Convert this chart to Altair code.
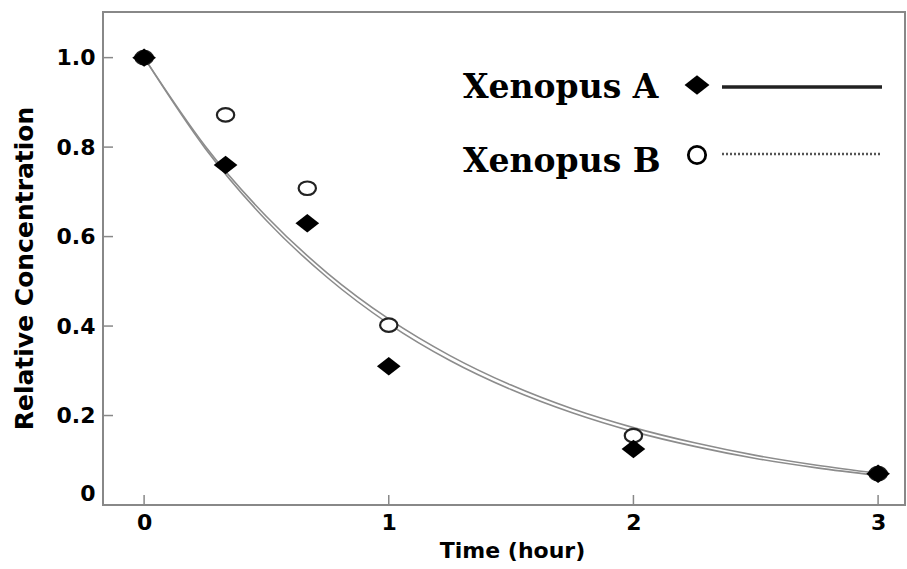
import altair as alt
import pandas as pd

# ---- data ----
series_names = ["Xenopus A", "Xenopus B"]
obs_time = [0, 0.333, 0.667, 1, 2, 3]
obs_a = [1.0, 0.76, 0.63, 0.31, 0.125, 0.07]
obs_b = [1.0, 0.872, 0.708, 0.402, 0.155, 0.07]

curve_time = [0, 0.25, 0.5, 0.75, 1, 1.25, 1.5, 1.75, 2, 2.25, 2.5, 2.75, 3]
curve_a = [1.0, 0.797, 0.636, 0.508, 0.405, 0.323, 0.258, 0.206, 0.164, 0.131, 0.104, 0.083, 0.066]
curve_b = [1.0, 0.802, 0.645, 0.518, 0.416, 0.334, 0.268, 0.215, 0.173, 0.139, 0.111, 0.089, 0.071]

x_ticks = [0, 1, 2, 3]
y_ticks = [0, 0.2, 0.4, 0.6, 0.8, 1.0]

obs_df = pd.concat([
    pd.DataFrame({"t": obs_time, "v": obs_a, "s": series_names[0]}),
    pd.DataFrame({"t": obs_time, "v": obs_b, "s": series_names[1]}),
])
curve_df = pd.concat([
    pd.DataFrame({"t": curve_time, "v": curve_a, "s": series_names[0]}),
    pd.DataFrame({"t": curve_time, "v": curve_b, "s": series_names[1]}),
])

W, H = 802, 493
SANS = "DejaVu Sans"
SERIF = "DejaVu Serif"
DIAMOND = "M -1 0 L 0 -0.78 L 1 0 L 0 0.78 Z"
ELLIPSE = "M -1 0 A 1 0.78 0 1 1 1 0 A 1 0.78 0 1 1 -1 0 Z"

xscale = alt.Scale(domain=[-0.168, 3.11], nice=False, zero=False)
yscale = alt.Scale(domain=[0, 1.102], nice=False, zero=False)

xaxis = alt.Axis(
    values=x_ticks, format="d", grid=False, domain=False, ticks=False, tickSize=0,
    labelFont=SANS, labelFontSize=22, labelFontWeight="bold", labelColor="black",
    labelPadding=7, title="Time (hour)", titleFont=SANS, titleFontSize=22,
    titleFontWeight="bold", titleColor="black", titleX=409, titleY=35,
    titleAnchor="middle", titleAlign="center", titleBaseline="top",
)
yaxis = alt.Axis(
    values=y_ticks, grid=False, domain=False, ticks=False, tickSize=0,
    labelExpr="datum.value == 0 ? '0' : format(datum.value, '.1f')",
    labelFont=SANS, labelFontSize=22, labelFontWeight="bold", labelColor="black",
    labelPadding=8, labelFlush=True,
    title="Relative  Concentration", titleFont=SANS, titleFontSize=25,
    titleFontWeight="bold", titleColor="black", titleX=-79, titleY=256,
    titleAngle=270, titleAlign="center", titleBaseline="middle",
)

base_x = alt.X("t:Q", scale=xscale, axis=xaxis)
base_y = alt.Y("v:Q", scale=yscale, axis=yaxis)

curves = alt.Chart(curve_df).mark_line(
    color="#8c8c8c", strokeWidth=1.6, interpolate="monotone"
).encode(x=base_x, y=base_y, detail="s:N")

circles = alt.Chart(obs_df).transform_filter(
    alt.datum.s == series_names[1]
).mark_point(
    shape=ELLIPSE, size=300, filled=False, stroke="#222", strokeWidth=2.2,
    fill="white", fillOpacity=1, opacity=1
).encode(x="t:Q", y="v:Q")

diamonds = alt.Chart(obs_df).transform_filter(
    alt.datum.s == series_names[0]
).mark_point(
    shape=DIAMOND, size=560, filled=True, color="black", opacity=1
).encode(x="t:Q", y="v:Q")

xtick_df = pd.DataFrame({"t": x_ticks})
ytick_df = pd.DataFrame({"v": y_ticks[1:]})
xticks = alt.Chart(xtick_df).mark_rule(color="#888", strokeWidth=1.5).encode(
    x="t:Q", y=alt.value(H), y2=alt.value(H - 10))
yticks = alt.Chart(ytick_df).mark_rule(color="#888", strokeWidth=1.5).encode(
    y="v:Q", x=alt.value(0), x2=alt.value(10))

# ---- legend drawn as annotations ----
leg_a = pd.DataFrame({"name": [series_names[0]]})
leg_b = pd.DataFrame({"name": [series_names[1]]})

text_a = alt.Chart(leg_a).mark_text(
    font=SERIF, fontSize=33, fontWeight="bold", color="black",
    align="left", baseline="alphabetic"
).encode(text="name:N", x=alt.value(360), y=alt.value(86))
text_b = alt.Chart(leg_b).mark_text(
    font=SERIF, fontSize=33, fontWeight="bold", color="black",
    align="left", baseline="alphabetic"
).encode(text="name:N", x=alt.value(360), y=alt.value(160))

sym_a = alt.Chart(leg_a).mark_point(
    shape=DIAMOND, size=620, filled=True, color="black", opacity=1
).encode(x=alt.value(594), y=alt.value(73))
sym_b = alt.Chart(leg_b).mark_point(
    shape="circle", size=300, filled=False, stroke="black", strokeWidth=2.8, opacity=1
).encode(x=alt.value(594), y=alt.value(143))

line_a = alt.Chart(leg_a).mark_rule(color="#222", strokeWidth=3.5).encode(
    x=alt.value(619), x2=alt.value(779), y=alt.value(75))
line_b = alt.Chart(leg_b).mark_rule(color="#555", strokeWidth=2.5, strokeDash=[2, 2]).encode(
    x=alt.value(619), x2=alt.value(779), y=alt.value(142))

chart = alt.layer(
    curves, xticks, yticks, circles, diamonds,
    text_a, text_b, sym_a, sym_b, line_a, line_b
).properties(
    width=W, height=H,
    autosize=alt.AutoSizeParams(type="none"),
    padding={"left": 103, "top": 12, "right": 2, "bottom": 64},
    background="white",
).configure_view(
    stroke="#888", strokeWidth=2
)

chart.save("out.html", embed_options={"renderer": "svg", "actions": False})
